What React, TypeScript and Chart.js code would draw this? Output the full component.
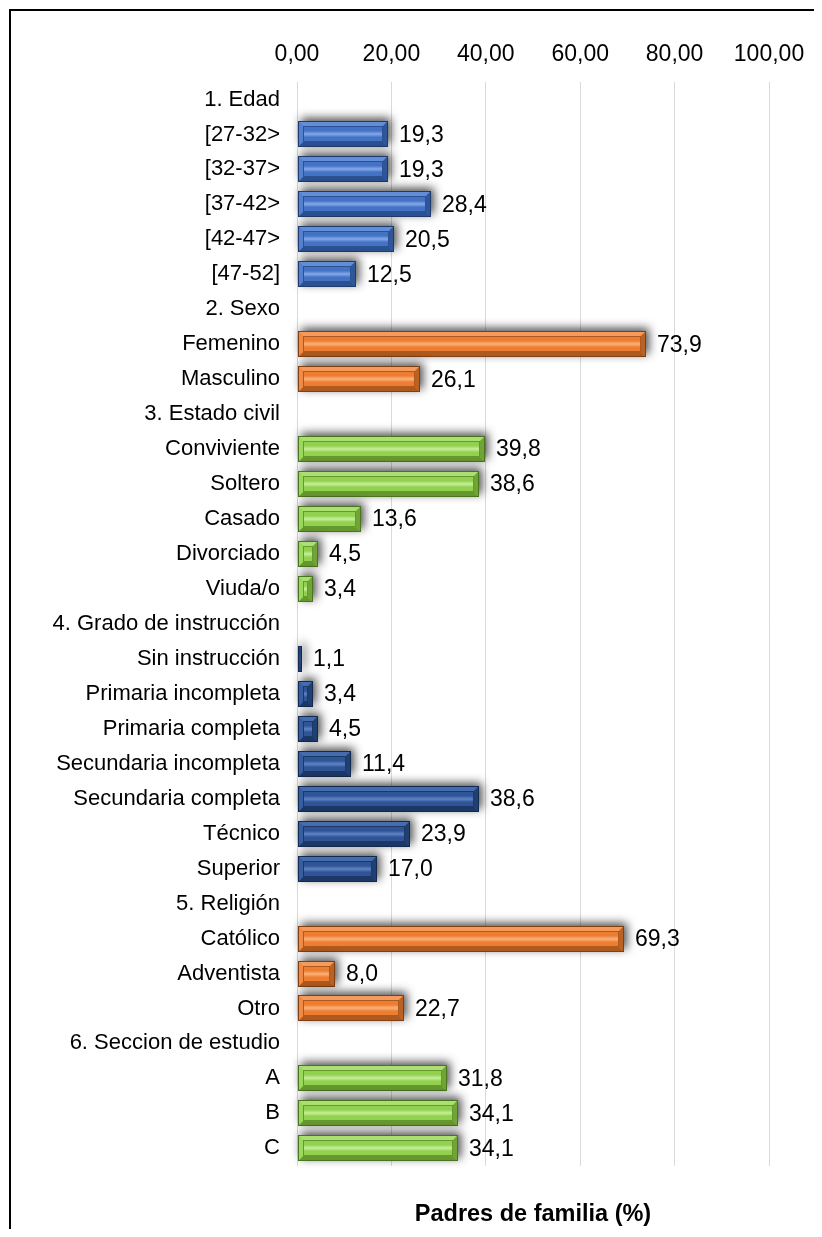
import React, { useEffect, useRef } from 'react';
import { Chart, registerables } from 'chart.js';
Chart.register(...registerables);

const categories = [
  '1. Edad', '[27-32>', '[32-37>', '[37-42>', '[42-47>', '[47-52]',
  '2. Sexo', 'Femenino', 'Masculino',
  '3. Estado civil', 'Conviviente', 'Soltero', 'Casado', 'Divorciado', 'Viuda/o',
  '4. Grado de instrucción', 'Sin instrucción', 'Primaria incompleta', 'Primaria completa',
  'Secundaria incompleta', 'Secundaria completa', 'Técnico', 'Superior',
  '5. Religión', 'Católico', 'Adventista', 'Otro',
  '6. Seccion de estudio', 'A', 'B', 'C',
];

const values: (number | null)[] = [
  null, 19.3, 19.3, 28.4, 20.5, 12.5,
  null, 73.9, 26.1,
  null, 39.8, 38.6, 13.6, 4.5, 3.4,
  null, 1.1, 3.4, 4.5, 11.4, 38.6, 23.9, 17.0,
  null, 69.3, 8.0, 22.7,
  null, 31.8, 34.1, 34.1,
];

const rowGroups = [
  'blue', 'blue', 'blue', 'blue', 'blue', 'blue',
  'orange', 'orange', 'orange',
  'green', 'green', 'green', 'green', 'green', 'green',
  'navy', 'navy', 'navy', 'navy', 'navy', 'navy', 'navy', 'navy',
  'orange', 'orange', 'orange', 'orange',
  'green', 'green', 'green', 'green',
];

const xTickLabels = ['0,00', '20,00', '40,00', '60,00', '80,00', '100,00'];
const axisTitle = 'Padres de familia (%)';

const palettes: Record<string, any> = {
  blue: { base: '#4472C4', hi: '#86AAE8', light: '#628ED9', side: '#5480CF', dark: '#2C5190', dark2: '#30569A', outline: '#1F3B6E' },
  orange: { base: '#ED7D31', hi: '#FBB47C', light: '#F59A5A', side: '#F08A44', dark: '#AE591E', dark2: '#BA6224', outline: '#7E3F12' },
  green: { base: '#92D050', hi: '#C6F09A', light: '#AAE070', side: '#9CD75E', dark: '#66982F', dark2: '#70A536', outline: '#4A7420' },
  navy: { base: '#2F5597', hi: '#6084C4', light: '#446CAE', side: '#375EA1', dark: '#1D3867', dark2: '#214072', outline: '#132A50' },
};

const FONT = '"Liberation Sans", Arial, Helvetica, sans-serif';

function poly(ctx: CanvasRenderingContext2D, pts: number[][], color: string) {
  ctx.beginPath();
  ctx.moveTo(pts[0][0], pts[0][1]);
  for (let i = 1; i < pts.length; i++) ctx.lineTo(pts[i][0], pts[i][1]);
  ctx.closePath();
  ctx.fillStyle = color;
  ctx.fill();
}

const bevelPlugin = {
  id: 'bevelBars',
  beforeDraw(chart: any) {
    const ctx = chart.ctx;
    ctx.save();
    ctx.fillStyle = '#000';
    ctx.fillRect(1, 1, 2, chart.height);
    ctx.fillRect(1, 1, chart.width, 2);
    ctx.restore();
  },
  afterDatasetsDraw(chart: any) {
    const ctx: CanvasRenderingContext2D = chart.ctx;
    const meta = chart.getDatasetMeta(0);
    meta.data.forEach((el: any, i: number) => {
      const v = values[i];
      if (v === null || v === undefined) return;
      const pal = palettes[rowGroups[i]];
      const x0 = Math.round(Math.min(el.base, el.x));
      const x1 = Math.round(Math.max(el.base, el.x));
      const w = x1 - x0;
      const h = Math.round(el.height);
      const top = Math.round(el.y - h / 2);
      ctx.save();
      ctx.shadowColor = 'rgba(0,0,0,0.7)';
      ctx.shadowBlur = 10;
      ctx.shadowOffsetX = 3;
      ctx.shadowOffsetY = -3;
      ctx.fillStyle = pal.base;
      ctx.fillRect(x0, top, w, h);
      ctx.restore();
      const b = Math.max(1, Math.min(5, w / 3, h / 3));
      ctx.save();
      poly(ctx, [[x0, top], [x1, top], [x1 - b, top + b], [x0 + b, top + b]], pal.light);
      poly(ctx, [[x0, top + h], [x1, top + h], [x1 - b, top + h - b], [x0 + b, top + h - b]], pal.dark);
      poly(ctx, [[x0, top], [x0 + b, top + b], [x0 + b, top + h - b], [x0, top + h]], pal.side);
      poly(ctx, [[x1, top], [x1 - b, top + b], [x1 - b, top + h - b], [x1, top + h]], pal.dark2);
      const iw = w - 2 * b;
      if (iw > 0) {
        const g = ctx.createLinearGradient(0, top + b, 0, top + h - b);
        g.addColorStop(0, pal.base);
        g.addColorStop(0.3, pal.base);
        g.addColorStop(0.5, pal.hi);
        g.addColorStop(0.7, pal.base);
        g.addColorStop(1, pal.base);
        ctx.fillStyle = g;
        ctx.fillRect(x0 + b, top + b, iw, h - 2 * b);
        ctx.strokeStyle = pal.dark;
        ctx.lineWidth = 1;
        ctx.strokeRect(x0 + b + 0.5, top + b + 0.5, Math.max(0, iw - 1), h - 2 * b - 1);
      }
      ctx.strokeStyle = pal.outline;
      ctx.lineWidth = 1;
      ctx.strokeRect(x0 + 0.5, top + 0.5, w - 1, h - 1);
      ctx.restore();
      ctx.save();
      ctx.fillStyle = '#000';
      ctx.font = `23px ${FONT}`;
      ctx.textAlign = 'left';
      ctx.textBaseline = 'middle';
      ctx.fillText(v.toFixed(1).replace('.', ','), x1 + 11, el.y + 1);
      ctx.restore();
    });
  },
};

export default function App() {
  const ref = useRef<HTMLCanvasElement>(null);
  useEffect(() => {
    if (!ref.current) return;
    const chart = new Chart(ref.current, {
      type: 'bar',
      data: {
        labels: categories,
        datasets: [
          {
            data: values as any,
            backgroundColor: 'rgba(0,0,0,0)',
            borderWidth: 0,
            barThickness: 26,
          },
        ],
      },
      options: {
        indexAxis: 'y',
        animation: false,
        responsive: false,
        devicePixelRatio: 1,
        layout: { padding: { left: 0, right: 45, top: 32, bottom: 0 } },
        plugins: {
          legend: { display: false },
          tooltip: { enabled: false },
          title: {
            display: true,
            text: axisTitle,
            position: 'bottom',
            fullSize: false,
            color: '#000',
            font: { family: FONT, size: 23.5, weight: 'bold' },
            padding: { top: 35, bottom: 0 },
          },
        },
        scales: {
          x: {
            position: 'top',
            min: 0,
            max: 100,
            ticks: {
              stepSize: 20,
              color: '#000',
              font: { family: FONT, size: 23 },
              padding: 14,
              maxRotation: 0,
              callback: (_v: any, i: number) => xTickLabels[i],
            },
            grid: { color: '#d9d9d9', lineWidth: 1, drawTicks: false },
            border: { display: false },
            afterFit: (s: any) => { s.height = 42; s.paddingRight = 0; s.paddingLeft = 0; },
          },
          y: {
            ticks: {
              color: '#000',
              font: { family: FONT, size: 22 },
              padding: 17,
              autoSkip: false,
            },
            grid: { display: false, drawTicks: false },
            border: { display: false },
            afterFit: (s: any) => { s.width = 289; s.paddingTop = 0; s.paddingBottom = 0; },
          },
        },
      },
      plugins: [bevelPlugin],
    });
    return () => chart.destroy();
  }, []);
  return (
    <div style={{ width: 806, height: 1221 }}>
      <canvas ref={ref} width={806} height={1221} style={{ display: 'block' }} />
    </div>
  );
}
